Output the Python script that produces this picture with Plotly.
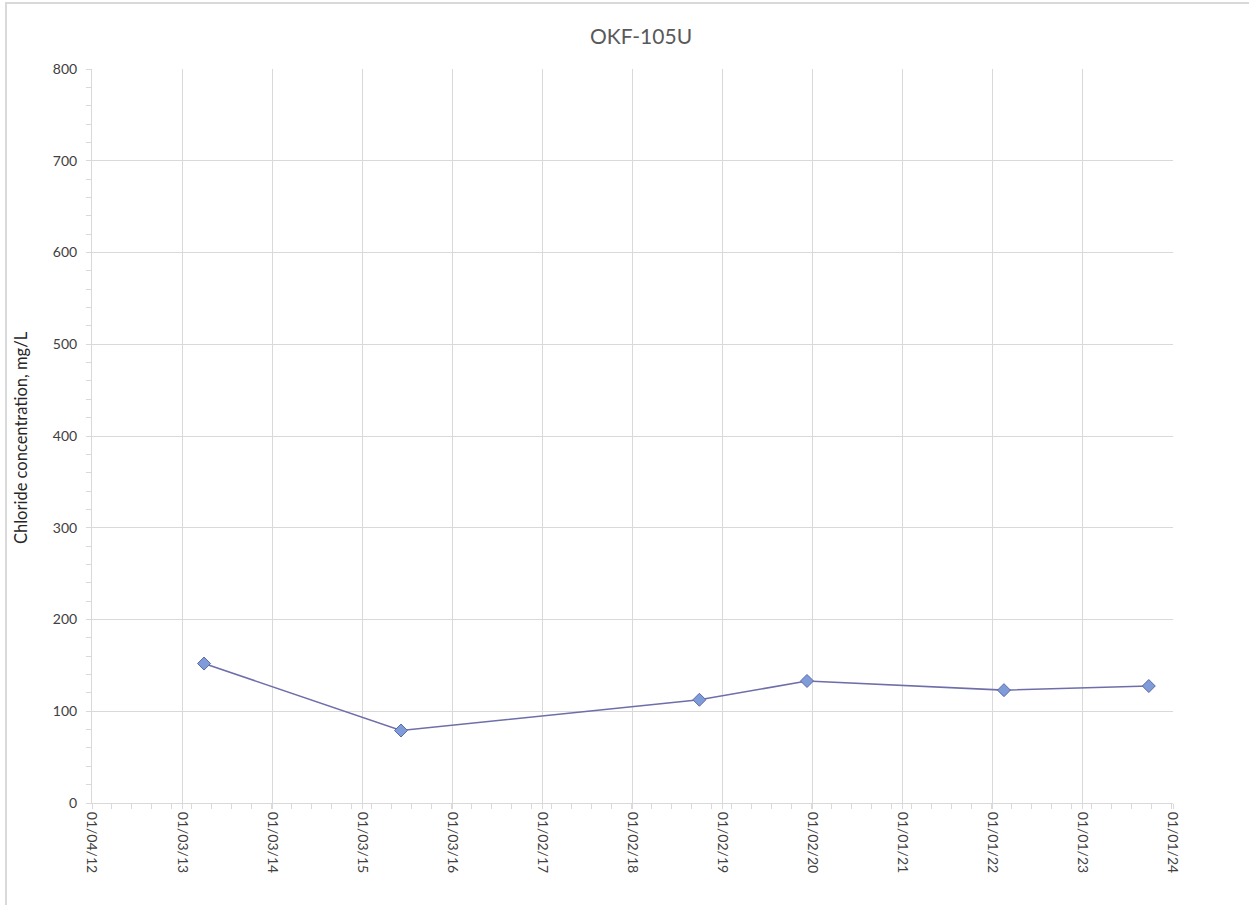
import datetime as dt
import plotly.graph_objects as go

# ---- data ----
sample_dates = ["2013-04-02", "2015-06-09", "2018-09-30", "2019-12-10", "2022-02-15", "2023-09-25"]
chloride_mg_l = [152, 79, 112.5, 133, 123, 127.5]
x_tick_labels = ["01/04/12", "01/03/13", "01/03/14", "01/03/15", "01/03/16", "01/02/17",
                 "01/02/18", "01/02/19", "01/02/20", "01/01/21", "01/01/22", "01/01/23", "01/01/24"]
y_tick_values = [0, 100, 200, 300, 400, 500, 600, 700, 800]

tick_dates = [dt.datetime.strptime(t, "%m/%d/%y").strftime("%Y-%m-%d") for t in x_tick_labels]

W, H = 1249, 905
L, R, T, B = 92, 1173, 69, 803
grid = "#d9d9d9"
txt = "#595959"
font = "Lato"

fig = go.Figure()
fig.add_trace(go.Scatter(
    x=sample_dates, y=chloride_mg_l, mode="lines+markers",
    line=dict(color="#6e6eaa", width=1.6),
    marker=dict(symbol="diamond", size=10, color="#7f9bd8",
                line=dict(color="#5a6aa8", width=1)),
    showlegend=False,
))

fig.update_layout(
    width=W, height=H,
    margin=dict(l=L, r=W - R, t=T, b=H - B, autoexpand=False),
    paper_bgcolor="white", plot_bgcolor="white",
    font=dict(family=font, color=txt, size=14),
    xaxis=dict(
        type="date",
        range=[tick_dates[0], tick_dates[-1]],
        tickmode="array", tickvals=tick_dates, ticktext=x_tick_labels,
        tickangle=90, tickfont=dict(size=14, color="#404040"),
        showgrid=True, gridcolor=grid, gridwidth=1,
        showline=True, linecolor=grid, linewidth=1, mirror=False,
        ticks="outside", ticklen=5, tickcolor=grid,
        minor=dict(ticks="outside", ticklen=5, tickcolor=grid,
                   dtick=81 * 86400000, tick0=tick_dates[0], showgrid=False),
        zeroline=False, fixedrange=True,
    ),
    yaxis=dict(
        range=[0, 800], tickmode="array", tickvals=y_tick_values,
        tickfont=dict(size=14, color="#404040"),
        showgrid=True, gridcolor=grid, gridwidth=1,
        showline=True, linecolor=grid, linewidth=1,
        ticks="outside", ticklen=5, tickcolor=grid,
        minor=dict(ticks="outside", ticklen=5, tickcolor=grid, dtick=20, showgrid=False),
        zeroline=False, ticklabelstandoff=6,
    ),
)

pw, ph = R - L, B - T
fig.add_annotation(text="OKF-105U", xref="paper", yref="paper",
                   x=(641 - L) / pw, y=(B - 35) / ph, showarrow=False,
                   font=dict(size=21, color=txt, family=font), xanchor="center", yanchor="middle")
fig.add_annotation(text="Chloride concentration, mg/L", xref="paper", yref="paper",
                   x=(21 - L) / pw, y=(B - 438) / ph, textangle=-90, showarrow=False,
                   font=dict(size=16.5, color="#262626", family=font), xanchor="center", yanchor="middle")

# chart frame (top and left edges visible)
fig.add_shape(type="line", xref="paper", yref="paper",
              x0=(5 - L) / pw, x1=(W - L) / pw, y0=(B - 3) / ph, y1=(B - 3) / ph,
              line=dict(color="#d9d9d9", width=2))
fig.add_shape(type="line", xref="paper", yref="paper",
              x0=(6 - L) / pw, x1=(6 - L) / pw, y0=(B - 3) / ph, y1=(B - H) / ph,
              line=dict(color="#d9d9d9", width=2))

fig.write_html("out.html", config={"displayModeBar": False},
               post_script="document.body.style.margin='0';document.body.style.overflow='hidden';")
